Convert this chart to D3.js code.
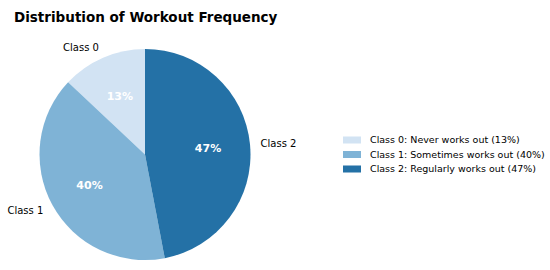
<!DOCTYPE html>
<html>
<head>
<meta charset="utf-8">
<script src="https://cdn.jsdelivr.net/npm/d3@7"></script>
<style>
  body { margin: 0; background: #fff; }
  svg { font-family: "DejaVu Sans", sans-serif; }
</style>
</head>
<body>
<svg id="chart" width="550" height="270"></svg>
<script>
'use strict';

const classes = ['Class 0', 'Class 1', 'Class 2'];
const shares = [13, 40, 47];
const legendLabels = [
    'Class 0: Never works out (13%)',
    'Class 1: Sometimes works out (40%)',
    'Class 2: Regularly works out (47%)'
];
const colors = ['#d2e3f3', '#7fb3d6', '#2471a6'];

const svg = d3.select('#chart');

svg.append('text')
    .attr('x', 14)
    .attr('y', 22)
    .attr('font-size', 13.5)
    .attr('font-weight', 'bold')
    .text('Distribution of Workout Frequency');

const cx = 145, cy = 154.5, radius = 105.5;

// counter-clockwise from 12 o'clock, like matplotlib startangle=90
const pie = d3.pie()
    .sort(null)
    .startAngle(0)
    .endAngle(-2 * Math.PI);

const arcs = pie(shares);
const arc = d3.arc().innerRadius(0).outerRadius(radius);
const pctArc = d3.arc().innerRadius(radius * 0.6).outerRadius(radius * 0.6);
const lblArc = d3.arc().innerRadius(radius * 1.1).outerRadius(radius * 1.1);

const color = d3.scaleOrdinal().domain(classes).range(colors);

const g = svg.append('g').attr('transform', `translate(${cx},${cy})`);

g.selectAll('path.slice')
    .data(arcs)
    .join('path')
        .attr('class', 'slice')
        .attr('d', arc)
        .attr('fill', (d, i) => color(classes[i]));

g.selectAll('text.pct')
    .data(arcs)
    .join('text')
        .attr('class', 'pct')
        .attr('transform', d => `translate(${pctArc.centroid(d)})`)
        .attr('text-anchor', 'middle')
        .attr('dy', '0.35em')
        .attr('font-size', 11)
        .attr('font-weight', 'bold')
        .attr('fill', '#fff')
        .text(d => `${d.data}%`);

g.selectAll('text.lbl')
    .data(arcs)
    .join('text')
        .attr('class', 'lbl')
        .attr('transform', d => `translate(${lblArc.centroid(d)})`)
        .attr('text-anchor', d => lblArc.centroid(d)[0] < 0 ? 'end' : 'start')
        .attr('dy', '0.35em')
        .attr('font-size', 10)
        .attr('fill', '#000')
        .text((d, i) => classes[i]);

// legend
const legend = svg.append('g').attr('transform', 'translate(343,140)');
const row = legend.selectAll('g')
    .data(legendLabels)
    .join('g')
        .attr('transform', (d, i) => `translate(0,${i * 14.5})`);

row.append('rect')
    .attr('x', 0)
    .attr('y', -3.5)
    .attr('width', 18)
    .attr('height', 7)
    .attr('fill', (d, i) => colors[i]);

row.append('text')
    .attr('x', 27)
    .attr('dy', '0.35em')
    .attr('font-size', 9.5)
    .text(d => d);
</script>
</body>
</html>
